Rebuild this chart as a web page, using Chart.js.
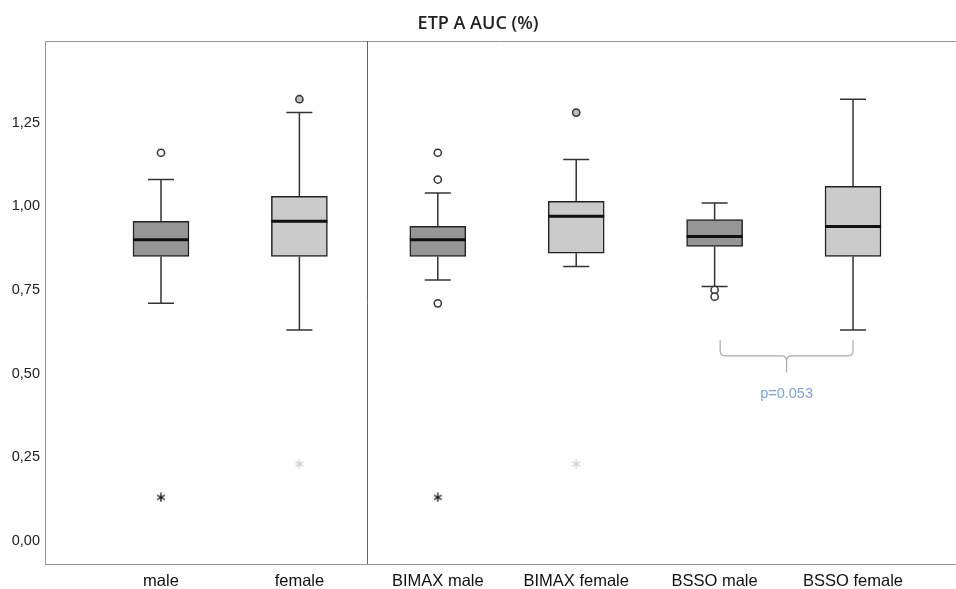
<!DOCTYPE html>
<html>
<head>
<meta charset="utf-8">
<title>ETP A AUC (%)</title>
<script src="https://cdn.jsdelivr.net/npm/chart.js"></script>
<style>
  html, body { margin: 0; padding: 0; background: #fff; }
  #wrap { width: 956px; height: 589px; position: relative; }
</style>
</head>
<body>
<div id="wrap"><canvas id="chart"></canvas></div>
<script>
// box plot values
const categories = ['male', 'female', 'BIMAX male', 'BIMAX female', 'BSSO male', 'BSSO female'];
const whiskerLow = [0.71, 0.63, 0.78, 0.82, 0.76, 0.63];
const q1 = [0.85, 0.85, 0.85, 0.86, 0.88, 0.85];
const median = [0.90, 0.955, 0.90, 0.97, 0.91, 0.94];
const q3 = [0.955, 1.03, 0.94, 1.015, 0.96, 1.06];
const whiskerHigh = [1.08, 1.28, 1.04, 1.14, 1.01, 1.32];
const outliers = [[1.16], [1.32], [1.16, 1.08, 0.71], [1.28], [0.75, 0.73], []];
const extremes = [[0.13], [0.23], [0.13], [0.23], [], []];
const yTicks = [0, 0.25, 0.5, 0.75, 1.0, 1.25];

// comparison bracket between BSSO male and BSSO female
const bracket = { from: 4.04, to: 5.0, top: 0.60, arm: 0.553, tip: 0.503, labelAt: 0.44, label: 'p=0.053' };
const dividerAt = 1.49;

const DARK = '#969696';
const LIGHT = '#cbcbcb';
const BOX_WIDTH = 56;

const outlierPoints = [];
const extremePoints = [];
categories.forEach((c, i) => {
  outliers[i].forEach(v => outlierPoints.push({ x: i, y: v, g: i }));
  extremes[i].forEach(v => extremePoints.push({ x: i, y: v, g: i }));
});

// six-armed asterisk used for extreme values
function asterisk(color) {
  const c = document.createElement('canvas');
  c.width = 10;
  c.height = 10;
  const g = c.getContext('2d');
  g.strokeStyle = color;
  g.lineWidth = 1.3;
  g.lineCap = 'round';
  [90, 30, -30].forEach(a => {
    const r = a * Math.PI / 180;
    const dx = Math.cos(r) * 4, dy = Math.sin(r) * 4;
    g.beginPath();
    g.moveTo(5 - dx, 5 - dy);
    g.lineTo(5 + dx, 5 + dy);
    g.stroke();
  });
  return c;
}
const starDark = asterisk('#111');
const starLight = asterisk('#cdcdcd');

const boxPlotExtras = {
  id: 'boxPlotExtras',
  beforeDatasetsDraw(chart) {
    const { ctx, scales: { x, y } } = chart;
    ctx.save();
    ctx.strokeStyle = '#333';
    ctx.lineWidth = 1.5;
    categories.forEach((c, i) => {
      const px = x.getPixelForValue(i);
      ctx.beginPath();
      ctx.moveTo(px, y.getPixelForValue(q3[i]));
      ctx.lineTo(px, y.getPixelForValue(whiskerHigh[i]));
      ctx.moveTo(px, y.getPixelForValue(q1[i]));
      ctx.lineTo(px, y.getPixelForValue(whiskerLow[i]));
      ctx.moveTo(px - 13, y.getPixelForValue(whiskerHigh[i]));
      ctx.lineTo(px + 13, y.getPixelForValue(whiskerHigh[i]));
      ctx.moveTo(px - 13, y.getPixelForValue(whiskerLow[i]));
      ctx.lineTo(px + 13, y.getPixelForValue(whiskerLow[i]));
      ctx.stroke();
    });
    ctx.restore();
  },
  afterDatasetsDraw(chart) {
    const { ctx, chartArea, scales: { x, y } } = chart;
    ctx.save();

    // medians
    ctx.strokeStyle = '#111';
    ctx.lineWidth = 3;
    categories.forEach((c, i) => {
      const px = x.getPixelForValue(i);
      const py = y.getPixelForValue(median[i]);
      ctx.beginPath();
      ctx.moveTo(px - BOX_WIDTH / 2, py);
      ctx.lineTo(px + BOX_WIDTH / 2, py);
      ctx.stroke();
    });

    // top frame line and panel divider
    ctx.lineWidth = 1;
    ctx.strokeStyle = '#999';
    ctx.beginPath();
    ctx.moveTo(chartArea.left, chartArea.top + 0.5);
    ctx.lineTo(chartArea.right, chartArea.top + 0.5);
    ctx.stroke();
    const dx = Math.round(x.getPixelForValue(dividerAt)) + 0.5;
    ctx.strokeStyle = '#666';
    ctx.beginPath();
    ctx.moveTo(dx, chartArea.top);
    ctx.lineTo(dx, chartArea.bottom);
    ctx.stroke();

    // bracket
    const x1 = x.getPixelForValue(bracket.from);
    const x2 = x.getPixelForValue(bracket.to);
    const xm = (x1 + x2) / 2;
    const yTop = y.getPixelForValue(bracket.top);
    const yArm = y.getPixelForValue(bracket.arm);
    const yTip = y.getPixelForValue(bracket.tip);
    const r = 5;
    ctx.strokeStyle = '#aaa';
    ctx.lineWidth = 1.2;
    ctx.beginPath();
    ctx.moveTo(x1, yTop);
    ctx.lineTo(x1, yArm - r);
    ctx.quadraticCurveTo(x1, yArm, x1 + r, yArm);
    ctx.lineTo(xm - r, yArm);
    ctx.quadraticCurveTo(xm, yArm, xm, yArm + r);
    ctx.lineTo(xm, yTip);
    ctx.moveTo(x2, yTop);
    ctx.lineTo(x2, yArm - r);
    ctx.quadraticCurveTo(x2, yArm, x2 - r, yArm);
    ctx.lineTo(xm + r, yArm);
    ctx.quadraticCurveTo(xm, yArm, xm, yArm + r);
    ctx.stroke();

    ctx.fillStyle = '#7ea2dc';
    ctx.font = '14.5px "Liberation Sans", Arial, sans-serif';
    ctx.textAlign = 'center';
    ctx.textBaseline = 'middle';
    ctx.fillText(bracket.label, xm, y.getPixelForValue(bracket.labelAt));
    ctx.restore();
  }
};

new Chart(document.getElementById('chart'), {
  type: 'bar',
  data: {
    datasets: [
      {
        type: 'bar',
        data: categories.map((c, i) => ({ x: i, y: [q1[i], q3[i]] })),
        backgroundColor: categories.map((c, i) => (i % 2 ? LIGHT : DARK)),
        borderColor: '#222',
        borderWidth: 1.5,
        borderSkipped: false,
        barThickness: BOX_WIDTH
      },
      {
        type: 'scatter',
        data: outlierPoints,
        pointStyle: 'circle',
        radius: 3.6,
        borderWidth: 1.5,
        borderColor: '#333',
        backgroundColor: ctx => (ctx.raw && ctx.raw.g % 2 ? '#bdbdbd' : '#fff')
      },
      {
        type: 'scatter',
        data: extremePoints,
        pointStyle: ctx => (ctx.raw && ctx.raw.g % 2 ? starLight : starDark),
        radius: 5
      }
    ]
  },
  options: {
    responsive: true,
    maintainAspectRatio: false,
    animation: false,
    layout: { padding: 0, autoPadding: false },
    plugins: {
      legend: { display: false },
      tooltip: { enabled: false },
      title: {
        display: true,
        text: 'ETP A AUC (%)',
        color: '#222',
        font: { family: '"Open Sans", sans-serif', size: 18, weight: '600' },
        padding: { top: 13, bottom: 6.4 }
      }
    },
    scales: {
      x: {
        type: 'linear',
        min: -0.838,
        max: 5.744,
        offset: false,
        grid: { drawOnChartArea: false, drawTicks: false },
        border: { display: true, color: '#999', width: 1 },
        afterBuildTicks: axis => { axis.ticks = categories.map((c, i) => ({ value: i })); },
        afterFit: axis => {
          axis.height = 25;
          axis.paddingLeft = 0;
          axis.paddingRight = 0;
        },
        ticks: {
          autoSkip: false,
          maxRotation: 0,
          padding: 8,
          color: '#111',
          font: { family: '"Liberation Sans", Arial, sans-serif', size: 16.5 },
          callback: v => categories[v]
        }
      },
      y: {
        min: -0.069,
        max: 1.494,
        grid: { drawOnChartArea: false, drawTicks: false },
        border: { display: true, color: '#999', width: 1 },
        afterBuildTicks: axis => { axis.ticks = yTicks.map(v => ({ value: v })); },
        afterFit: axis => {
          axis.width = 45;
          axis.paddingTop = 0;
          axis.paddingBottom = 0;
        },
        ticks: {
          padding: 5,
          color: '#222',
          font: { family: '"Liberation Sans", Arial, sans-serif', size: 14.5 },
          callback: v => v.toFixed(2).replace('.', ',')
        }
      }
    }
  },
  plugins: [boxPlotExtras]
});
</script>
</body>
</html>
